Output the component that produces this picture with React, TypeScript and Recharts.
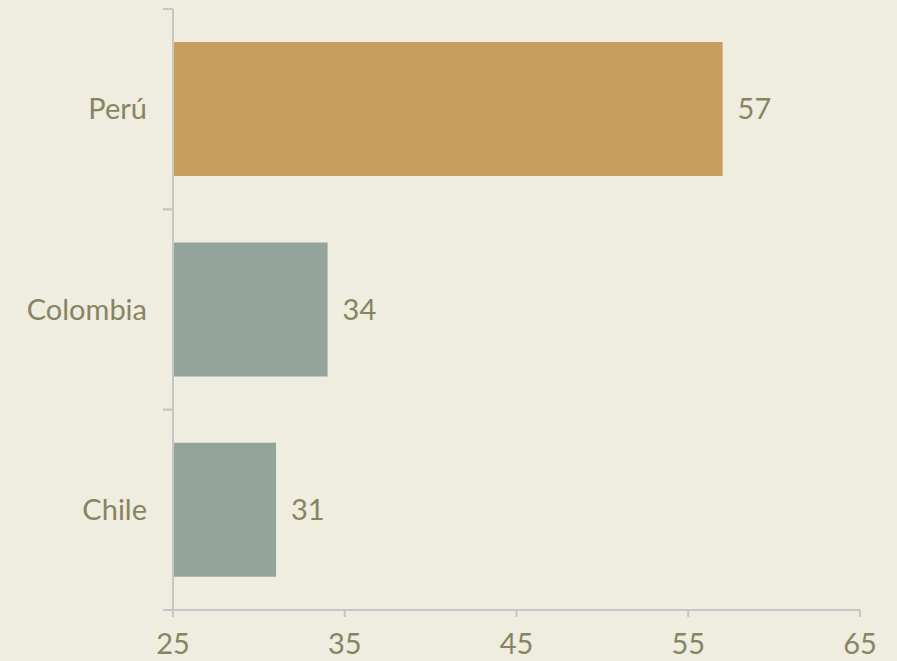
import React from 'react'
import { BarChart, Bar, XAxis, YAxis, Cell, LabelList } from 'recharts'

// data
const countries = ['Perú', 'Colombia', 'Chile']
const values = [57, 34, 31]
const xTicks = [25, 35, 45, 55, 65]
const highlight = 'Perú'

const W = 897
const H = 661
const TOP = 9
const BOTTOM_AXIS = 51
const LEFT = 173
const RIGHT = 37
const BAND = (H - TOP - BOTTOM_AXIS) / countries.length

const BG = '#efede0'
const AXIS = '#c6c6c4'
const TEXT = '#878461'
const GOLD = '#c89e5d'
const GREY = '#93a49b'
const FONT = 'Lato, "Open Sans", sans-serif'

// category label at the band centre, tick marks on the band edges
const CategoryTick = ({ y, payload }: any) => {
  return (
    <g>
      <line x1={LEFT - 10} x2={LEFT} y1={y - BAND / 2} y2={y - BAND / 2} stroke={AXIS} strokeWidth={2} />
      <line x1={LEFT - 10} x2={LEFT} y1={y + BAND / 2} y2={y + BAND / 2} stroke={AXIS} strokeWidth={2} />
      <text x={LEFT - 26} y={y} dy="0.355em" textAnchor="end" fill={TEXT} fontSize={29} fontFamily={FONT}>
        {payload.value}
      </text>
    </g>
  )
}

export default function App() {
  const chartData = countries.map((name, i) => ({ name, value: values[i] }))

  return (
    <div style={{ position: 'absolute', left: 0, top: 0, width: W, height: H, background: BG, fontFamily: FONT }}>
      <BarChart
        width={W}
        height={H}
        data={chartData}
        layout="vertical"
        margin={{ top: TOP, right: RIGHT, bottom: 0, left: 0 }}
        barCategoryGap="16.5%"
      >
        <XAxis
          type="number"
          domain={[25, 65]}
          ticks={xTicks}
          allowDataOverflow
          height={BOTTOM_AXIS}
          axisLine={{ stroke: AXIS, strokeWidth: 2 }}
          tickLine={{ stroke: AXIS, strokeWidth: 2 }}
          tickSize={7}
          tickMargin={16}
          tick={{ fill: TEXT, fontSize: 29, fontFamily: FONT }}
        />
        <YAxis
          type="category"
          dataKey="name"
          width={LEFT}
          axisLine={{ stroke: AXIS, strokeWidth: 2 }}
          tickLine={false}
          tick={<CategoryTick />}
        />
        <Bar dataKey="value" isAnimationActive={false}>
          {chartData.map((d) => (
            <Cell key={d.name} fill={d.name === highlight ? GOLD : GREY} />
          ))}
          <LabelList
            dataKey="value"
            position="right"
            offset={15}
            fill={TEXT}
            fontSize={29}
            fontFamily={FONT}
          />
        </Bar>
      </BarChart>
    </div>
  )
}
